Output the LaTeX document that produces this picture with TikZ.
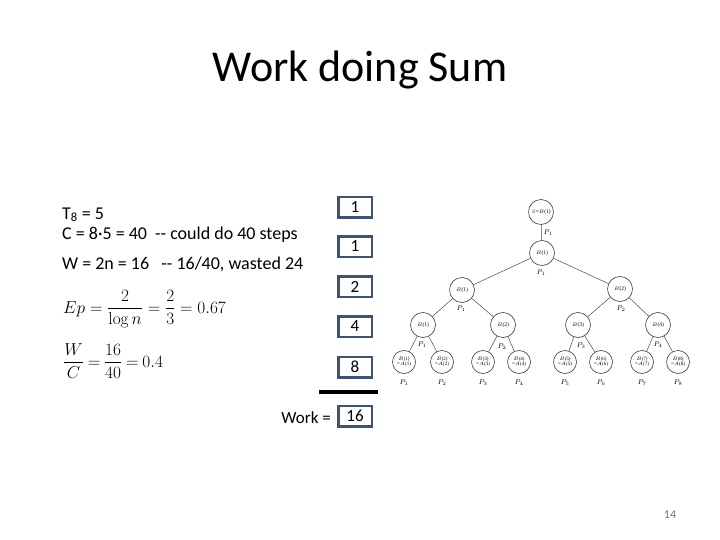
\documentclass[tikz,border=0pt]{standalone}
\usepackage[no-math]{fontspec}
\setmainfont{Carlito}
\newfontfamily\treefont{Liberation Serif}
\begin{document}
\begin{tikzpicture}[x=1pt,y=-1pt,
  numbox/.style={draw=boxblue,line width=2.5pt,minimum width=33.5pt,minimum height=20.5pt,inner sep=0pt,font=\fontsize{17}{18}\selectfont},
  tn/.style={circle,draw=black!75,line width=0.6pt,minimum size=25pt,inner sep=0pt,font=\treefont\fontsize{5.5}{6}\selectfont,align=center},
  leaf/.style={tn,minimum size=23pt,font=\treefont\fontsize{5}{5.5}\selectfont},
  plab/.style={font=\treefont\fontsize{7}{8}\selectfont\itshape,inner sep=0pt},
  edge/.style={draw=black!70,line width=0.5pt},
  body/.style={anchor=base west,inner sep=0pt,font=\fontsize{18}{18}\selectfont}]
\definecolor{boxblue}{HTML}{3D5370}
\useasboundingbox[fill=white] (0,0) rectangle (720,540);

% title
\node[anchor=base,inner sep=0pt,font=\fontsize{44}{50}\selectfont] (title) at (360,82) {Work doing Sum};

% left text
\node[body] (t8) at (62,219) {T\textsubscript{8} = 5};
\node[body] (cl) at (62,240) {C = 8·5 = 40 \ -{}- could do 40 steps};
\node[body] (wl) at (62,269) {W = 2n = 16 \ \ -{}- 16/40, wasted 24};
\node[anchor=base west,inner sep=0pt,font=\fontsize{18}{18}\selectfont] (ep) at (63,313) {$\displaystyle Ep=\frac{2}{\log n}=\frac{2}{3}=0.67$};
\node[anchor=base west,inner sep=0pt,font=\fontsize{16.5}{18}\selectfont] (wc) at (63,367) {$\thickmuskip=4mu \displaystyle \frac{W}{C}=\frac{16}{40}=0.4$};

% boxes
\node[numbox] (b1) at (355,207.5) {1};
\node[numbox] (b2) at (355,246.5) {1};
\node[numbox] (b3) at (355,286.5) {2};
\node[numbox] (b4) at (355,326.5) {4};
\node[numbox] (b5) at (355,367) {8};
\coordinate (ls) at (319,392);
\coordinate (le) at (378,392);
\draw[line width=4pt] (ls) -- (le);
\node[numbox] (bw) at (355,416) {16};
\node[anchor=base east,inner sep=0pt,font=\fontsize{17}{18}\selectfont] (work) at (331,423) {Work =};

% tree
\node[tn] (r) at (541,212) {$S$=$B$(1)};
\node[tn] (n2) at (542,253) {$B$(1)};
\node[tn] (n3a) at (462,290) {$B$(1)};
\node[tn] (n3b) at (620,289) {$B$(2)};
\node[tn] (n4a) at (423,325) {$B$(1)};
\node[tn] (n4b) at (503,325) {$B$(2)};
\node[tn] (n4c) at (578,325) {$B$(3)};
\node[tn] (n4d) at (658,325) {$B$(4)};
\foreach \i/\x in {1/404,2/442,3/483,4/519,5/565,6/601,7/642,8/678}{
  \node[leaf] (l\i) at (\x,362) {$B$(\i)\\=$A$(\i)};
  \node[plab] (pl\i) at (\x,383) {$P_{\i}$};
}
\draw[edge] (r) -- (n2);
\draw[edge] (n2) -- (n3a);
\draw[edge] (n2) -- (n3b);
\draw[edge] (n3a) -- (n4a);
\draw[edge] (n3a) -- (n4b);
\draw[edge] (n3b) -- (n4c);
\draw[edge] (n3b) -- (n4d);
\draw[edge] (n4a) -- (l1);
\draw[edge] (n4a) -- (l2);
\draw[edge] (n4b) -- (l3);
\draw[edge] (n4b) -- (l4);
\draw[edge] (n4c) -- (l5);
\draw[edge] (n4c) -- (l6);
\draw[edge] (n4d) -- (l7);
\draw[edge] (n4d) -- (l8);
\node[plab] (p0) at (548,233) {$P_1$};
\node[plab] (p2) at (541,273) {$P_1$};
\node[plab] (p3a) at (461,309) {$P_1$};
\node[plab] (p3b) at (621,309) {$P_2$};
\node[plab] (p4a) at (422,345) {$P_1$};
\node[plab] (p4b) at (502,347) {$P_2$};
\node[plab] (p4c) at (581,346) {$P_3$};
\node[plab] (p4d) at (658,345) {$P_4$};

% page number
\node[anchor=base,inner sep=0pt,font=\fontsize{12}{14}\selectfont,text=black!55] (pg) at (670,518) {14};
\end{tikzpicture}
\end{document}
